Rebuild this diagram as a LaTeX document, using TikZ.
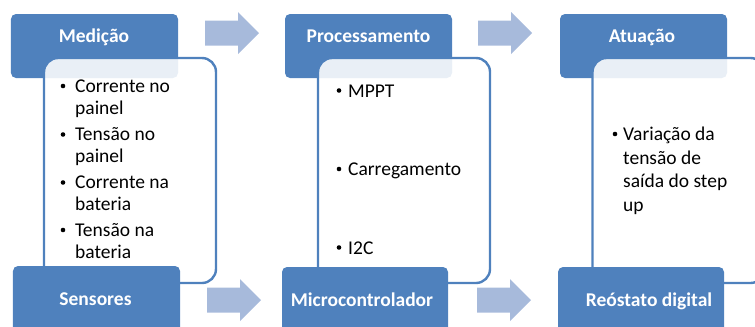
\documentclass[tikz,border=0pt]{standalone}
\usepackage{fontspec}
\setmainfont{Carlito}
\definecolor{accent}{HTML}{4F81BD}
\definecolor{arrowc}{HTML}{A7BADB}
\definecolor{txt}{HTML}{000000}
\tikzset{
  hdrbox/.style={fill=accent, draw=none, rounded corners=5bp, inner sep=0pt},
  listbox/.style={fill=white, fill opacity=0.88, draw=accent, draw opacity=1, line width=2.4bp, rounded corners=14bp, inner sep=0pt},
  hdrtext/.style={anchor=base, text=white, inner sep=0pt, font=\fontsize{19.5bp}{22bp}\selectfont\bfseries},
  itemtext/.style={anchor=base west, align=left, inner sep=0pt, text=txt, font=\fontsize{19.5bp}{22bp}\selectfont},
  itemwide/.style={itemtext, font=\fontsize{19.5bp}{23.5bp}\selectfont},
  bul/.style={circle, fill=txt, inner sep=0pt, minimum size=4.6bp},
  blockarrow/.pic={\fill[arrowc] (0,-12.5) -- (33,-12.5) -- (33,-21) -- (54,0) -- (33,21) -- (33,12.5) -- (0,12.5) -- cycle;}
}
\begin{document}
\begin{tikzpicture}[x=1bp,y=-1bp]
\useasboundingbox (0,0) rectangle (755,326);
\clip (0,0) rectangle (755,326);
% block arrows
\pic at (205,33) {blockarrow};
\pic at (478,33) {blockarrow};
\pic at (207,300) {blockarrow};
\pic at (477,300) {blockarrow};
% top boxes
\node[hdrbox, minimum width=167bp, minimum height=64bp] (h1) at (94.5,46) {};
\node[hdrbox, minimum width=167bp, minimum height=64bp] (h2) at (368.5,46) {};
\node[hdrbox, minimum width=167bp, minimum height=64bp] (h3) at (643.5,46) {};
% list boxes
\node[listbox, minimum width=172bp, minimum height=225bp] (w1) at (130,170.5) {};
\node[listbox, minimum width=172bp, minimum height=225bp] (w2) at (404,170.5) {};
\node[listbox, minimum width=172bp, minimum height=225bp] (w3) at (678.5,170.5) {};
% bottom boxes
\node[hdrbox, minimum width=167bp, minimum height=74bp] (s1) at (96.5,303) {};
\node[hdrbox, minimum width=166bp, minimum height=74bp] (s2) at (365,304) {};
\node[hdrbox, minimum width=166bp, minimum height=74bp] (s3) at (641,304) {};
% header texts
\node[hdrtext] (h1t) at (94,42) {Medição};
\node[hdrtext] (h2t) at (368.5,42) {Processamento};
\node[hdrtext] (h3t) at (642,42) {Atuação};
\node[hdrtext] (s1t) at (95.5,305.5) {Sensores};
\node[hdrtext] (s2t) at (362,306) {Microcontrolador};
\node[hdrtext] (s3t) at (649,306) {Reóstato digital};
% column 1 items (anchor = baseline of last line)
\node[bul] (b11) at (63,86) {};
\node[itemtext] (t11) at (75,114) {Corrente no\\painel};
\node[bul] (b12) at (63,134.5) {};
\node[itemtext] (t12) at (75,162.5) {Tensão no\\painel};
\node[bul] (b13) at (63,182.5) {};
\node[itemtext] (t13) at (75,210.5) {Corrente na\\bateria};
\node[bul] (b14) at (63,230) {};
\node[itemtext] (t14) at (75,258) {Tensão na\\bateria};
% column 2 items
\node[bul] (b21) at (339,90.5) {};
\node[itemtext] (t21) at (348,97) {MPPT};
\node[bul] (b22) at (339,169) {};
\node[itemtext] (t22) at (348,175.5) {Carregamento};
\node[bul] (b23) at (339,247.5) {};
\node[itemtext] (t23) at (348,254) {I2C};
% column 3 item
\node[bul] (b31) at (615,134) {};
\node[itemwide] (t31) at (623,211) {Variação da\\tensão de\\saída do step\\up};
\end{tikzpicture}
\end{document}
